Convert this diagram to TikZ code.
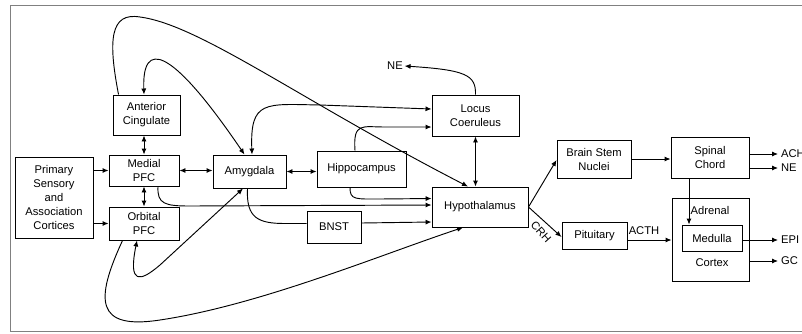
\documentclass[tikz,border=0pt]{standalone}
\usepackage{fontspec}
\setmainfont{Liberation Sans}
\usetikzlibrary{arrows.meta,calc}
\begin{document}
\begin{tikzpicture}[x=0.75pt,y=-0.75pt,line width=0.7pt,>={Latex[length=4.5pt,width=3.8pt]}]
\tikzstyle{every node}+=[inner sep=0pt,font=\fontsize{8.4}{10.5}\selectfont]
\tikzstyle{box}=[draw=black,align=center]
\tikzstyle{lbl}=[inner sep=1pt]
\useasboundingbox (0,0) rectangle (802,333);
\draw [black!50,line width=0.75pt] (10,5) rectangle (840,331);
\node [box,minimum width=58.5pt,minimum height=60.75pt] (prim) at (54,197.5) {Primary\\Sensory\\and\\Association\\Cortices};
\node [box,minimum width=50.25pt,minimum height=30pt] (antcing) at (146.5,115) {Anterior\\Cingulate};
\node [box,minimum width=52.5pt,minimum height=23.25pt] (medial) at (144,170.5) {Medial\\PFC};
\node [box,minimum width=52.5pt,minimum height=24.75pt] (orbital) at (144,223.5) {Orbital\\PFC};
\node [box,minimum width=54.75pt,minimum height=24.75pt] (amyg) at (249.5,171.5) {Amygdala};
\node [box,minimum width=66.75pt,minimum height=27pt] (hippo) at (361.5,169) {Hippocampus};
\node [box,minimum width=65.25pt,minimum height=30.75pt] (locus) at (475.5,115.5) {Locus\\Coeruleus};
\node [box,minimum width=72pt,minimum height=30pt] (hypo) at (480,207) {Hypothalamus};
\node [box,minimum width=40.5pt,minimum height=24pt] (bnst) at (334,227) {BNST};
\node [box,minimum width=55.5pt,minimum height=28.5pt] (brainstem) at (594,159) {Brain Stem\\Nuclei};
\node [box,minimum width=58.5pt,minimum height=30.75pt] (spinal) at (710,157.5) {Spinal\\Chord};
\node [box,minimum width=57.75pt,minimum height=62.25pt] (adrenal) at (710.5,239.5) {};
\node [box,minimum width=45pt,minimum height=19.5pt] (medulla) at (712,238) {Medulla};
\node [box,minimum width=48.75pt,minimum height=20.25pt] (pit) at (594.5,235.5) {Pituitary};
\node [lbl] (adrtxt) at (710,210) {Adrenal};
\node [lbl] (cortex) at (712,263) {Cortex};
\node [lbl] (ne) at (395,66) {NE};
\node [lbl] (acth) at (644,231) {ACTH};
\node [lbl,rotate=-48] (crh) at (541,232) {CRH};
\node [lbl,anchor=west,inner sep=2pt] (ach) at (778,154) {ACH};
\node [lbl,anchor=west,inner sep=2pt] (ne2) at (778,168) {NE};
\node [lbl,anchor=west,inner sep=2pt] (epi) at (778,240) {EPI};
\node [lbl,anchor=west,inner sep=2pt] (gc) at (778,261) {GC};
\draw [->] (prim.east |- medial.west) -- (medial.west);
\draw [->] (prim.east |- orbital.west) -- (orbital.west);
\draw [<->] (medial.north) -- (medial.north |- antcing.south);
\draw [<->] (medial.south) -- (orbital.north);
\draw [<->] (medial.east) -- (medial.east -| amyg.west);
\draw [<->] (amyg.east) -- (amyg.east -| hippo.west);
\draw [<->] (locus.south) -- (locus.south |- hypo.north);
\draw [->] ($(antcing.north west)+(6,0)$) .. controls (108,40) and (110,12) .. (140,17) .. controls (200,25) and (300,100) .. ($(hypo.north)+(-12,0)$);
\draw [<->] ($(antcing.north)+(-2.5,0)$) .. controls (142,40) and (170,45) .. ($(amyg.north)+(-5,0)$);
\draw [<->] ($(amyg.north)+(2.5,0)$) .. controls (250,100) and (265,104) .. (320,105) -- ($(locus.west)+(0,-6.5)$);
\draw [->] ($(hippo.north)+(-6.5,0)$) .. controls (353,122) and (362,127) .. (385,127) -- ($(locus.west)+(0,11.5)$);
\draw [->] (locus.north) .. controls (476,75) and (466,70) .. (ne.east);
\draw [->] ($(hippo.south)+(-11.5,0)$) .. controls (350,200) and (355,199) .. (380,199) -- ($(hypo.west)+(0,-8.5)$);
\draw [->] ($(medial.south)+(14,0)$) .. controls (157,204) and (165,206) .. (190,206) -- ($(hypo.west)+(0,-2)$);
\draw ($(amyg.south)+(-2,0)$) .. controls (246,218) and (258,223.5) .. (285,223.5) -- ($(bnst.west)+(0,-3.5)$);
\draw [->] ($(bnst.east)+(0,-4)$) -- ($(hypo.west)+(0,15)$);
\draw [<->] ($(orbital.south)+(-7,0)$) .. controls (128,285) and (140,282) .. (160,265) -- ($(amyg.south)+(-6.5,0)$);
\draw [->] ($(orbital.south west)+(14,0)$) .. controls (95,300) and (95,330) .. (160,320) .. controls (260,305) and (380,255) .. ($(hypo.south)+(-17,0)$);
\draw [->] (hypo.east) -- ($(brainstem.west)+(0,1)$);
\draw [->] (hypo.east) -- ($(pit.west)+(0,1.5)$);
\draw [->] (brainstem.east) -- (brainstem.east -| spinal.west);
\draw [->] (spinal.east |- ach.west) -- (ach.west);
\draw [->] (spinal.east |- ne2.west) -- (ne2.west);
\coordinate (sc) at ($(spinal.south)+(-21,0)$);
\draw [->] (sc) -- (sc |- medulla.north);
\coordinate (pa) at ($(pit.east)+(0,4.5)$);
\draw [->] (pa) -- (pa -| adrenal.west);
\draw [->] (medulla.east |- epi.west) -- (epi.west);
\draw [->] (adrenal.east |- gc.west) -- (gc.west);
\end{tikzpicture}
\end{document}
